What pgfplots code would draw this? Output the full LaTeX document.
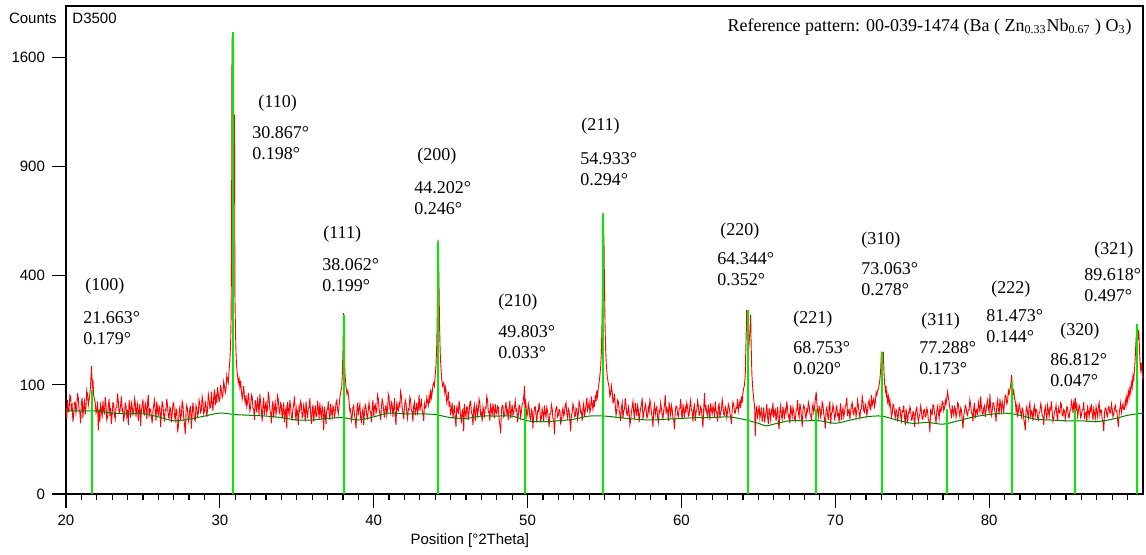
\documentclass[border=0pt]{standalone}
\usepackage{fontspec}
\setmainfont{Liberation Sans}
\newfontfamily\tnr{Liberation Serif}
\usepackage{pgfplots}
\pgfplotsset{compat=1.18}

\definecolor{stick}{RGB}{0,235,0}
\definecolor{bgline}{RGB}{0,128,0}

% peak label: rel x/y of the angle line, rel x/y of the (hkl) line, hkl, position, FWHM
\newcommand\ann[7]{%
  \node[anchor=base west, inner sep=0pt, font=\tnr\fontsize{9}{11}\selectfont]
    at (rel axis cs:#1,#2) {#6°};
  \node[anchor=base west, inner sep=0pt, yshift=-10.5pt, font=\tnr\fontsize{9}{11}\selectfont]
    at (rel axis cs:#1,#2) {#7°};
  \node[anchor=base west, inner sep=0pt, font=\tnr\fontsize{9}{11}\selectfont]
    at (rel axis cs:#3,#4) {(#5)};}

\begin{document}
\begin{tikzpicture}
\begin{axis}[
  name=ax, at={(0,0)}, anchor=south west,
  scale only axis, width=538.5pt, height=244pt,
  xmin=20, xmax=90, ymin=0, ymax=2000,
  y coord trafo/.code={\pgfmathparse{sqrt(#1)}},
  y coord inv trafo/.code={\pgfmathparse{(#1)^2}},
  xtick={20,30,...,80}, minor xtick={21,...,89},
  ytick={0,100,400,900,1600}, yticklabels={0,100,400,900,1600},
  tick align=outside, xtick pos=bottom, ytick pos=left,
  major tick length=7pt, minor tick length=3pt,
  tick style={black, line width=0.6pt},
  axis line style={line width=1pt},
  ticklabel style={font=\fontsize{7.5}{9}\selectfont},
  /pgf/number format/assume math mode=true,
  clip=false,
]
\addplot[red, line width=0.45pt] coordinates {
(20.0,62)(20.05,48)(20.1,74)(20.15,57)(20.2,58)(20.25,82)(20.3,80)(20.35,61)(20.4,66)(20.45,44)
(20.5,52)(20.55,70)(20.6,71)(20.65,55)(20.7,63)(20.75,86)(20.8,77)(20.85,60)(20.9,56)(20.95,42)
(21.0,69)(21.05,78)(21.1,48)(21.15,64)(21.2,72)(21.25,53)(21.3,64)(21.35,90)(21.4,83)(21.45,66)
(21.52,78)(21.58,92)(21.62,112)(21.66,138)(21.68,120)(21.72,98)(21.76,104)(21.8,82)(21.86,74)
(21.9,70)(21.95,55)(22.0,58)(22.05,72)(22.1,34)(22.15,60)(22.2,44)(22.25,67)(22.3,61)(22.35,48)
(22.4,73)(22.45,58)(22.5,55)(22.55,79)(22.6,67)(22.65,46)(22.7,50)(22.75,64)(22.8,76)(22.85,54)
(22.9,60)(22.95,41)(23.0,54)(23.05,70)(23.1,69)(23.15,52)(23.2,47)(23.25,63)(23.3,63)(23.35,85)
(23.4,72)(23.45,55)(23.5,57)(23.55,66)(23.6,80)(23.65,58)(23.7,61)(23.75,44)(23.8,52)(23.85,69)
(23.9,66)(23.95,51)(24.0,59)(24.05,40)(24.1,74)(24.15,62)(24.2,49)(24.25,70)(24.3,64)(24.35,53)
(24.4,56)(24.45,77)(24.5,71)(24.55,50)(24.6,62)(24.65,68)(24.7,45)(24.75,58)(24.8,68)(24.85,39)
(24.9,58)(24.95,66)(25.0,75)(25.05,55)(25.1,53)(25.15,69)(25.2,63)(25.25,47)(25.3,70)(25.35,82)
(25.4,50)(25.45,61)(25.5,60)(25.55,51)(25.6,42)(25.65,57)(25.7,66)(25.75,74)(25.8,57)(25.85,45)
(25.9,72)(25.95,60)(26.0,51)(26.05,65)(26.1,62)(26.15,38)(26.2,55)(26.25,71)(26.3,68)(26.35,52)
(26.4,44)(26.45,60)(26.5,59)(26.55,76)(26.6,65)(26.65,50)(26.7,48)(26.75,63)(26.8,61)(26.85,43)
(26.9,54)(26.95,68)(27.0,70)(27.05,52)(27.1,46)(27.15,61)(27.2,58)(27.25,32)(27.3,38)(27.35,56)
(27.4,63)(27.45,47)(27.5,52)(27.55,72)(27.6,67)(27.65,49)(27.7,41)(27.75,30)(27.8,56)(27.85,66)
(27.9,60)(27.95,44)(28.0,49)(28.05,62)(28.1,64)(28.15,36)(28.2,53)(28.25,70)(28.3,58)(28.35,47)
(28.4,45)(28.45,66)(28.5,62)(28.55,51)(28.6,55)(28.65,74)(28.7,68)(28.75,56)(28.8,59)(28.85,80)
(28.9,72)(28.95,54)(29.0,57)(29.05,71)(29.1,66)(29.15,50)(29.2,60)(29.25,84)(29.3,76)(29.35,62)
(29.4,63)(29.45,88)(29.5,70)(29.55,58)(29.6,78)(29.65,92)(29.7,66)(29.75,80)
(29.8,70)(29.85,96)(29.9,84)(29.95,72)(30.0,76)(30.05,100)(30.1,90)(30.15,78)(30.2,82)(30.25,106)
(30.3,98)(30.35,86)(30.4,92)(30.45,118)(30.5,110)(30.55,104)(30.6,128)(30.65,150)(30.7,190)(30.73,260)
(30.76,500)(30.79,1750)(30.82,900)(30.86,500)(30.9,800)(30.95,1210)(30.98,330)(31.01,240)(31.04,180)
(31.07,150)(31.1,132)(31.15,118)(31.2,104)(31.25,112)(31.3,96)(31.35,108)(31.4,90)(31.45,76)
(31.5,84)(31.55,98)(31.6,78)(31.65,70)(31.7,82)(31.75,64)(31.8,70)(31.85,86)
(31.9,72)(31.95,58)(32.0,64)(32.05,83)(32.1,80)(32.15,62)(32.2,60)(32.25,46)(32.3,74)(32.35,66)
(32.4,56)(32.45,75)(32.5,68)(32.55,52)(32.6,84)(32.65,70)(32.7,59)(32.75,44)(32.8,66)(32.85,78)
(32.9,52)(32.95,63)(33.0,72)(33.05,55)(33.1,61)(33.15,88)(33.2,78)(33.25,60)(33.3,55)(33.35,42)
(33.4,64)(33.45,73)(33.5,49)(33.55,62)(33.6,70)(33.65,53)(33.7,60)(33.75,81)(33.8,75)(33.85,58)
(33.9,54)(33.95,69)(34.0,66)(34.05,48)(34.1,58)(34.15,70)(34.2,43)(34.25,57)(34.3,62)(34.35,36)
(34.4,71)(34.45,59)(34.5,53)(34.55,74)(34.6,64)(34.65,50)(34.7,47)(34.75,61)(34.8,68)(34.85,80)
(34.9,57)(34.95,45)(35.0,62)(35.05,55)(35.1,40)(35.15,64)(35.2,59)(35.25,72)(35.3,67)(35.35,49)
(35.4,51)(35.45,66)(35.5,60)(35.55,44)(35.6,72)(35.65,58)(35.7,48)(35.75,62)(35.8,63)(35.85,77)
(35.9,55)(35.95,41)(36.0,58)(36.05,67)(36.1,44)(36.15,56)(36.2,66)(36.25,50)(36.3,52)(36.35,73)
(36.4,61)(36.45,47)(36.5,70)(36.55,56)(36.6,49)(36.65,64)(36.7,58)(36.75,34)(36.8,64)(36.85,53)
(36.9,41)(36.95,59)(37.0,60)(37.05,72)(37.1,55)(37.15,46)(37.2,68)(37.25,57)(37.3,50)(37.35,65)
(37.4,62)(37.45,48)(37.5,57)(37.55,70)(37.6,74)(37.65,60)(37.7,54)(37.75,66)
(37.8,78)(37.86,88)(37.92,96)(37.96,120)(38.0,170)(38.04,275)(38.07,230)(38.1,150)(38.14,118)
(38.2,96)(38.26,84)(38.32,90)(38.4,72)(38.45,58)
(38.5,60)(38.55,45)(38.6,50)(38.65,63)(38.7,66)(38.75,52)(38.8,47)(38.85,36)(38.9,58)(38.95,70)
(39.0,52)(39.05,61)(39.1,68)(39.15,49)(39.2,44)(39.25,57)(39.3,61)(39.35,40)(39.4,55)(39.45,67)
(39.5,63)(39.55,51)(39.6,48)(39.65,60)(39.7,70)(39.75,58)(39.8,57)(39.85,43)(39.9,62)(39.95,74)
(40.0,51)(40.05,64)(40.1,67)(40.15,55)(40.2,59)(40.25,82)(40.3,76)(40.35,61)(40.4,54)(40.45,46)
(40.5,64)(40.55,75)(40.6,70)(40.65,58)(40.7,49)(40.75,63)(40.8,66)(40.85,52)(40.9,60)(40.95,84)
(41.0,78)(41.05,62)(41.1,56)(41.15,71)(41.2,68)(41.25,50)(41.3,62)(41.35,77)(41.4,50)(41.45,40)
(41.5,72)(41.55,60)(41.6,58)(41.65,69)(41.7,65)(41.75,88)(41.8,80)(41.85,63)(41.9,55)(41.95,47)
(42.0,63)(42.05,74)(42.1,69)(42.15,56)(42.2,48)(42.25,61)(42.3,60)(42.35,79)(42.4,74)(42.45,58)
(42.5,57)(42.55,44)(42.6,66)(42.65,71)(42.7,52)(42.75,60)(42.8,70)(42.85,55)(42.9,61)(42.95,83)
(43.0,58)(43.05,67)(43.1,76)(43.15,59)(43.2,54)(43.25,45)(43.3,68)(43.35,62)(43.4,63)(43.45,78)
(43.5,72)(43.55,66)
(43.6,80)(43.65,70)(43.7,92)(43.75,78)(43.8,86)(43.85,100)(43.9,104)(43.95,98)(44.0,120)(44.05,140)
(44.1,190)(44.14,300)(44.18,543)(44.21,500)(44.24,380)(44.28,240)(44.32,170)(44.36,140)(44.42,110)
(44.48,98)(44.55,104)(44.62,86)(44.66,96)(44.7,90)(44.75,70)(44.8,76)(44.85,88)
(44.9,64)(44.95,72)(45.0,52)(45.05,60)(45.1,70)(45.15,48)(45.2,58)(45.25,66)(45.3,47)(45.35,38)
(45.4,66)(45.45,57)(45.5,55)(45.55,73)(45.6,62)(45.65,51)(45.7,42)(45.75,58)(45.8,60)(45.85,33)
(45.9,68)(45.95,55)(46.0,50)(46.05,64)(46.1,63)(46.15,46)(46.2,57)(46.25,70)(46.3,72)(46.35,56)
(46.4,53)(46.45,40)(46.5,61)(46.55,67)(46.6,45)(46.65,59)(46.7,66)(46.75,52)(46.8,59)(46.85,76)
(46.9,70)(46.95,53)(47.0,55)(47.05,44)(47.1,64)(47.15,58)(47.2,49)(47.25,63)(47.3,62)(47.35,80)
(47.4,74)(47.45,56)(47.5,57)(47.55,45)(47.6,66)(47.65,60)(47.7,51)(47.75,69)(47.8,60)(47.85,48)
(47.9,68)(47.95,57)(48.0,54)(48.05,65)(48.1,63)(48.15,47)(48.2,40)(48.25,31)(48.3,58)(48.35,66)
(48.4,65)(48.45,50)(48.5,52)(48.55,62)(48.6,71)(48.65,55)(48.7,59)(48.75,46)(48.8,62)(48.85,73)
(48.9,48)(48.95,57)(49.0,67)(49.05,52)(49.1,56)(49.15,64)(49.2,73)(49.25,58)(49.3,60)(49.35,43)
(49.4,53)(49.45,66)(49.5,64)(49.55,50)(49.6,57)(49.65,68)
(49.7,70)(49.76,82)(49.8,98)(49.83,40)(49.86,76)(49.9,66)(49.95,50)
(50.0,55)(50.05,68)(50.1,62)(50.15,49)(50.2,46)(50.25,60)(50.3,58)(50.35,36)(50.4,51)(50.45,63)
(50.5,64)(50.55,52)(50.6,43)(50.65,58)(50.7,57)(50.75,70)(50.8,60)(50.85,45)(50.9,48)(50.95,61)
(51.0,55)(51.05,44)(51.1,66)(51.15,55)(51.2,50)(51.25,63)(51.3,58)(51.35,47)(51.4,38)(51.45,54)
(51.5,54)(51.55,67)(51.6,61)(51.65,48)(51.7,47)(51.75,30)(51.8,56)(51.85,62)(51.9,64)(51.95,50)
(52.0,52)(52.05,60)(52.1,59)(52.15,42)(52.2,45)(52.25,57)(52.3,62)(52.35,51)(52.4,55)(52.45,66)
(52.5,70)(52.55,55)(52.6,49)(52.65,61)(52.7,58)(52.75,46)(52.8,33)(52.85,52)(52.9,56)(52.95,68)
(53.0,63)(53.05,50)(53.1,51)(53.15,62)(53.2,60)(53.25,47)(53.3,54)(53.35,72)(53.4,68)(53.45,56)
(53.5,57)(53.55,45)(53.6,62)(53.65,69)(53.7,50)(53.75,58)(53.8,66)(53.85,78)(53.9,59)(53.95,64)
(54.0,71)(54.05,56)(54.1,61)(54.15,80)(54.2,67)(54.25,60)
(54.3,74)(54.35,64)(54.4,82)(54.45,72)(54.5,90)(54.55,80)(54.6,96)(54.65,104)(54.7,118)(54.75,135)
(54.8,170)(54.84,250)(54.88,420)(54.91,665)(54.94,600)(54.97,522)(55.0,360)(55.04,230)(55.08,170)
(55.12,140)(55.18,116)(55.24,104)(55.3,96)(55.35,80)(55.4,84)(55.45,98)(55.5,88)(55.55,70)(55.6,72)(55.65,84)
(55.7,66)(55.75,52)(55.8,58)(55.85,74)(55.9,72)(55.95,60)(56.0,54)(56.05,45)(56.1,63)(56.15,70)
(56.2,48)(56.25,58)(56.3,60)(56.35,77)(56.4,67)(56.45,53)(56.5,52)(56.55,64)(56.6,58)(56.65,40)
(56.7,45)(56.75,56)(56.8,64)(56.85,72)(56.9,56)(56.95,47)(57.0,70)(57.05,60)(57.1,51)(57.15,66)
(57.2,60)(57.25,43)(57.3,54)(57.35,62)(57.4,66)(57.45,78)(57.5,47)(57.55,55)(57.6,59)(57.65,68)
(57.7,62)(57.75,49)(57.8,50)(57.85,63)(57.9,57)(57.95,74)(58.0,68)(58.05,55)(58.1,49)(58.15,38)
(58.2,58)(58.25,67)(58.3,53)(58.35,61)(58.4,64)(58.45,50)(58.5,43)(58.55,58)(58.6,56)(58.65,70)
(58.7,61)(58.75,52)(58.8,48)(58.85,59)(58.9,66)(58.95,82)(59.0,54)(59.05,62)(59.1,59)(59.15,45)
(59.2,71)(59.25,60)(59.3,52)(59.35,66)(59.4,60)(59.45,48)(59.5,46)(59.55,35)(59.6,57)(59.65,65)
(59.7,64)(59.75,53)(59.8,50)(59.85,61)(59.9,62)(59.95,76)(60.0,55)(60.05,47)(60.1,68)(60.15,58)
(60.2,49)(60.25,63)(60.3,58)(60.35,70)(60.4,63)(60.45,51)(60.5,52)(60.55,66)(60.6,74)(60.65,59)
(60.7,57)(60.75,44)(60.8,61)(60.85,69)(60.9,45)(60.95,56)(61.0,59)(61.05,73)(61.1,66)(61.15,52)
(61.2,53)(61.25,64)(61.3,60)(61.35,48)(61.4,37)(61.45,62)(61.5,86)(61.55,60)(61.6,64)(61.65,55)
(61.7,51)(61.75,67)(61.8,58)(61.85,46)(61.9,69)(61.95,60)(62.0,54)(62.05,65)(62.1,60)(62.15,50)
(62.2,72)(62.25,58)(62.3,56)(62.35,44)(62.4,62)(62.45,70)(62.5,48)(62.55,57)(62.6,59)(62.65,75)
(62.7,66)(62.75,53)(62.8,52)(62.85,64)(62.9,61)(62.95,49)(63.0,57)(63.05,68)(63.1,64)(63.15,55)
(63.2,50)(63.25,41)(63.3,60)(63.35,71)(63.4,67)(63.45,56)(63.5,55)(63.55,63)(63.6,62)(63.65,76)
(63.7,58)(63.75,66)
(63.8,72)(63.85,62)(63.9,80)(63.95,70)(64.0,86)(64.05,94)(64.1,100)(64.15,120)(64.2,200)(64.24,285)
(64.28,240)(64.32,180)(64.36,170)(64.4,190)(64.46,230)(64.5,270)(64.53,190)(64.58,120)(64.64,92)
(64.7,76)(64.76,64)(64.8,28)(64.85,60)(64.9,64)(64.95,50)
(65.0,56)(65.05,66)(65.1,48)(65.15,55)(65.2,60)(65.25,44)(65.3,52)(65.35,63)(65.4,43)(65.45,50)
(65.5,57)(65.55,68)(65.6,50)(65.65,41)(65.7,62)(65.75,54)(65.8,46)(65.85,59)(65.9,55)(65.95,70)
(66.0,49)(66.05,57)(66.1,60)(66.15,45)(66.2,53)(66.25,64)(66.3,44)(66.35,35)(66.4,58)(66.45,66)
(66.5,51)(66.55,47)(66.6,64)(66.65,56)(66.7,47)(66.75,60)(66.8,56)(66.85,72)(66.9,61)(66.95,50)
(67.0,52)(67.05,42)(67.1,66)(67.15,58)(67.2,50)(67.25,63)(67.3,58)(67.35,48)(67.4,45)(67.45,57)
(67.5,60)(67.55,74)(67.6,55)(67.65,49)(67.7,69)(67.75,61)(67.8,51)(67.85,38)(67.9,59)(67.95,66)
(68.0,63)(68.05,52)(68.1,48)(68.15,60)(68.2,57)(68.25,71)(68.3,66)(68.35,54)(68.4,53)(68.45,45)
(68.5,61)(68.55,68)(68.6,56)(68.65,62)
(68.7,74)(68.76,88)(68.8,70)(68.85,58)
(68.9,50)(68.95,64)(69.0,62)(69.05,50)(69.1,55)(69.15,71)(69.2,67)(69.25,54)(69.3,48)(69.35,36)
(69.4,58)(69.45,63)(69.5,53)(69.55,46)(69.6,64)(69.65,72)(69.7,41)(69.75,55)(69.8,56)(69.85,67)
(69.9,60)(69.95,47)(70.0,50)(70.05,61)(70.1,65)(70.15,52)(70.2,54)(70.25,43)(70.3,59)(70.35,69)
(70.4,46)(70.45,57)(70.5,62)(70.55,50)(70.6,55)(70.65,64)(70.7,68)(70.75,78)(70.8,51)(70.85,58)
(70.9,60)(70.95,47)(71.0,57)(71.05,66)(71.1,70)(71.15,56)(71.2,53)(71.25,62)(71.3,63)(71.35,50)
(71.4,58)(71.45,74)(71.5,66)(71.55,55)(71.6,49)(71.65,60)(71.7,61)(71.75,80)(71.8,72)(71.85,58)
(71.9,56)(71.95,68)(72.0,64)(72.05,52)(72.1,59)(72.15,70)(72.2,74)(72.25,62)(72.3,60)(72.35,82)
(72.4,66)(72.45,72)(72.5,76)(72.55,64)
(72.6,70)(72.65,86)(72.7,82)(72.75,90)(72.8,92)(72.85,100)(72.9,110)(72.95,130)(73.0,170)(73.04,150)
(73.08,160)(73.12,170)(73.16,130)(73.2,104)(73.26,90)(73.3,98)(73.33,78)(73.36,84)(73.4,72)(73.45,80)
(73.5,66)(73.55,74)
(73.6,62)(73.65,50)(73.7,54)(73.75,68)(73.8,66)(73.85,55)(73.9,49)(73.95,60)(74.0,58)(74.05,44)
(74.1,52)(74.15,63)(74.2,63)(74.25,51)(74.3,45)(74.35,58)(74.4,57)(74.45,66)(74.5,50)(74.55,40)
(74.6,61)(74.65,52)(74.7,42)(74.75,56)(74.8,55)(74.85,64)(74.9,59)(74.95,46)(75.0,47)(75.05,57)
(75.1,56)(75.15,38)(75.2,51)(75.25,60)(75.3,63)(75.35,52)(75.4,44)(75.45,50)(75.5,54)(75.55,65)
(75.6,58)(75.65,47)(75.7,48)(75.75,59)(75.8,60)(75.85,50)(75.9,52)(75.95,62)(76.0,57)(76.05,46)
(76.1,45)(76.15,32)(76.2,61)(76.25,54)(76.3,53)(76.35,67)(76.4,66)(76.45,55)(76.5,50)(76.55,42)
(76.6,58)(76.65,64)(76.7,55)(76.75,48)(76.8,64)(76.85,57)(76.9,60)(76.95,72)(77.0,70)(77.05,58)
(77.1,62)(77.15,74)
(77.2,68)(77.25,78)(77.3,88)(77.34,80)(77.4,70)(77.45,62)
(77.5,58)(77.55,48)(77.6,66)(77.65,57)(77.7,52)(77.75,64)(77.8,61)(77.85,49)(77.9,55)(77.95,70)
(78.0,68)(78.05,56)(78.1,50)(78.15,62)(78.2,59)(78.25,47)(78.3,36)(78.35,52)(78.4,57)(78.45,66)
(78.5,63)(78.55,54)(78.6,52)(78.65,60)(78.7,60)(78.75,75)(78.8,67)(78.85,55)(78.9,55)(78.95,44)
(79.0,62)(79.05,70)(79.1,48)(79.15,58)(79.2,60)(79.25,52)(79.3,71)(79.35,64)(79.4,57)(79.45,80)
(79.5,64)(79.55,55)(79.6,53)(79.65,63)(79.7,66)(79.75,50)(79.8,59)(79.85,68)(79.9,74)(79.95,61)
(80.0,56)(80.05,84)(80.1,63)(80.15,52)(80.2,58)(80.25,70)(80.3,70)(80.35,60)(80.4,54)(80.45,44)
(80.5,66)(80.55,74)(80.6,61)(80.65,53)(80.7,76)(80.75,66)(80.8,58)(80.85,72)(80.9,64)(80.95,57)
(81.0,70)(81.05,82)(81.1,80)(81.15,68)
(81.2,72)(81.25,90)(81.3,84)(81.36,92)(81.42,104)(81.46,119)(81.5,100)(81.55,84)(81.6,90)(81.65,76)
(81.7,72)(81.75,58)
(81.8,66)(81.85,52)(81.9,57)(81.95,68)(82.0,63)(82.05,55)(82.1,50)(82.15,62)(82.2,60)(82.25,47)
(82.3,42)(82.35,34)(82.4,58)(82.45,64)(82.5,55)(82.55,48)(82.6,64)(82.65,70)(82.7,49)(82.75,58)
(82.8,56)(82.85,45)(82.9,61)(82.95,66)(83.0,52)(83.05,60)(83.1,59)(83.15,49)(83.2,46)(83.25,55)
(83.3,57)(83.35,68)(83.4,63)(83.45,51)(83.5,51)(83.55,40)(83.6,58)(83.65,64)(83.7,54)(83.75,47)
(83.8,66)(83.85,59)(83.9,50)(83.95,62)(84.0,60)(84.05,72)(84.1,56)(84.15,44)(84.2,48)(84.25,57)
(84.3,59)(84.35,66)(84.4,53)(84.45,45)(84.5,62)(84.55,56)(84.6,55)(84.65,70)(84.7,67)(84.75,52)
(84.8,51)(84.85,60)(84.9,58)(84.95,47)(85.0,54)(85.05,64)(85.1,63)(85.15,50)(85.2,49)(85.25,58)
(85.3,59)(85.35,72)(85.4,66)(85.45,55)
(85.5,70)(85.55,62)(85.6,78)(85.65,58)(85.7,66)(85.75,50)
(85.8,57)(85.85,66)(85.9,62)(85.95,49)(86.0,52)(86.05,60)(86.1,60)(86.15,71)(86.2,47)(86.25,55)
(86.3,56)(86.35,44)(86.4,63)(86.45,57)(86.5,50)(86.55,62)(86.6,58)(86.65,68)(86.7,54)(86.75,46)
(86.8,61)(86.85,55)(86.9,48)(86.95,64)(87.0,57)(87.05,50)(87.1,64)(87.15,70)(87.2,52)(87.25,59)
(87.3,59)(87.35,47)(87.4,44)(87.45,33)(87.5,56)(87.55,62)(87.6,61)(87.65,52)(87.7,50)(87.75,64)
(87.8,63)(87.85,55)(87.9,55)(87.95,68)(88.0,60)(88.05,50)(88.1,53)(88.15,62)(88.2,66)(88.25,57)
(88.3,58)(88.35,46)(88.4,38)(88.45,54)(88.5,62)(88.55,70)(88.6,56)(88.65,63)(88.7,68)(88.75,60)
(88.8,60)(88.85,74)(88.9,66)(88.95,80)
(89.0,72)(89.05,88)(89.1,80)(89.15,94)(89.2,86)(89.25,104)(89.3,96)(89.35,118)(89.4,110)(89.45,130)
(89.5,160)(89.55,200)(89.6,240)(89.64,215)(89.68,200)(89.72,226)(89.76,190)(89.8,150)(89.85,130)
(89.9,144)(89.95,120)(90.0,110)
};
\addplot[bgline, line width=0.5pt, smooth] coordinates {
(20,58)(21,58)(22,58)(23,55)(24,54)(25,54)(26,50)(27,45)(28,47)(29,51)(30,55)(31,53)(32,52)
(33,51)(34,49)(35,46)(36,46)(37,48)(38,49)(39,46)(40,50)(41,55)(42,54)(43,54)(44,53)(45,49)
(46,48)(47,51)(48,51)(49,51)(50,45)(51,44)(52,45)(53,47)(54,51)(55,51)(56,49)(57,47)(58,46)
(59,47)(60,48)(61,49)(62,49)(63,50)(64,47)(65,42)(65.5,39)(66,41)(67,45)(68,45)(69,45)(70,42)
(71,46)(72,50)(73,51)(74,46)(75,42)(76,43)(77,41)(78,45)(79,50)(80,53)(81,55)(82,52)(83,47)
(84,46)(85,45)(86,45)(87,44)(88,47)(89,52)(90,55)
};
\addplot[stick, line width=1pt, ycomb] coordinates {
(21.663,91)(30.867,1790)(38.062,270)(44.202,535)(49.803,62)(54.933,660)(64.344,285)
(68.753,61)(73.063,170)(77.288,61)(81.473,105)(85.6,59)(89.618,243)
};
\ann{0.0158}{0.350}{0.0177}{0.418}{100}{21.663}{0.179}
\ann{0.1727}{0.7275}{0.1783}{0.793}{110}{30.867}{0.198}
\ann{0.2377}{0.459}{0.2386}{0.5246}{111}{38.062}{0.199}
\ann{0.3231}{0.6168}{0.3259}{0.6824}{200}{44.202}{0.246}
\ann{0.4011}{0.3197}{0.4011}{0.3852}{210}{49.803}{0.033}
\ann{0.4773}{0.6762}{0.4782}{0.7439}{211}{54.933}{0.294}
\ann{0.6045}{0.4713}{0.6072}{0.5287}{220}{64.344}{0.352}
\ann{0.675}{0.2889}{0.675}{0.3504}{221}{68.753}{0.020}
\ann{0.7382}{0.4508}{0.7382}{0.5123}{310}{73.063}{0.278}
\ann{0.792}{0.2889}{0.7939}{0.3443}{311}{77.288}{0.173}
\ann{0.8542}{0.3525}{0.8589}{0.4119}{222}{81.473}{0.144}
\ann{0.9136}{0.2643}{0.9229}{0.3238}{320}{86.812}{0.047}
\ann{0.9452}{0.4365}{0.9545}{0.4898}{321}{89.618}{0.497}
\node[anchor=east, inner sep=0pt, font=\fontsize{7.5}{9}\selectfont] at (rel axis cs:-0.0084,0.975) {Counts};
\node[anchor=west, inner sep=0pt, font=\fontsize{7.5}{9}\selectfont] at (rel axis cs:0.0056,0.975) {D3500};
\node[anchor=east, inner sep=0pt, font=\tnr\fontsize{9}{11}\selectfont] at (rel axis cs:0.9898,0.957)
  {Reference pattern: 00-039-1474 (Ba ( Zn\textsubscript{0.33}Nb\textsubscript{0.67} ) O\textsubscript{3})};
\node[font=\fontsize{7.5}{9}\selectfont] at ([yshift=-23.5pt]rel axis cs:0.375,0) {Position [°2Theta]};
\end{axis}
\pgfresetboundingbox
\path[use as bounding box] (-33pt,-30pt) rectangle (540pt,247pt);
\end{tikzpicture}
\end{document}
